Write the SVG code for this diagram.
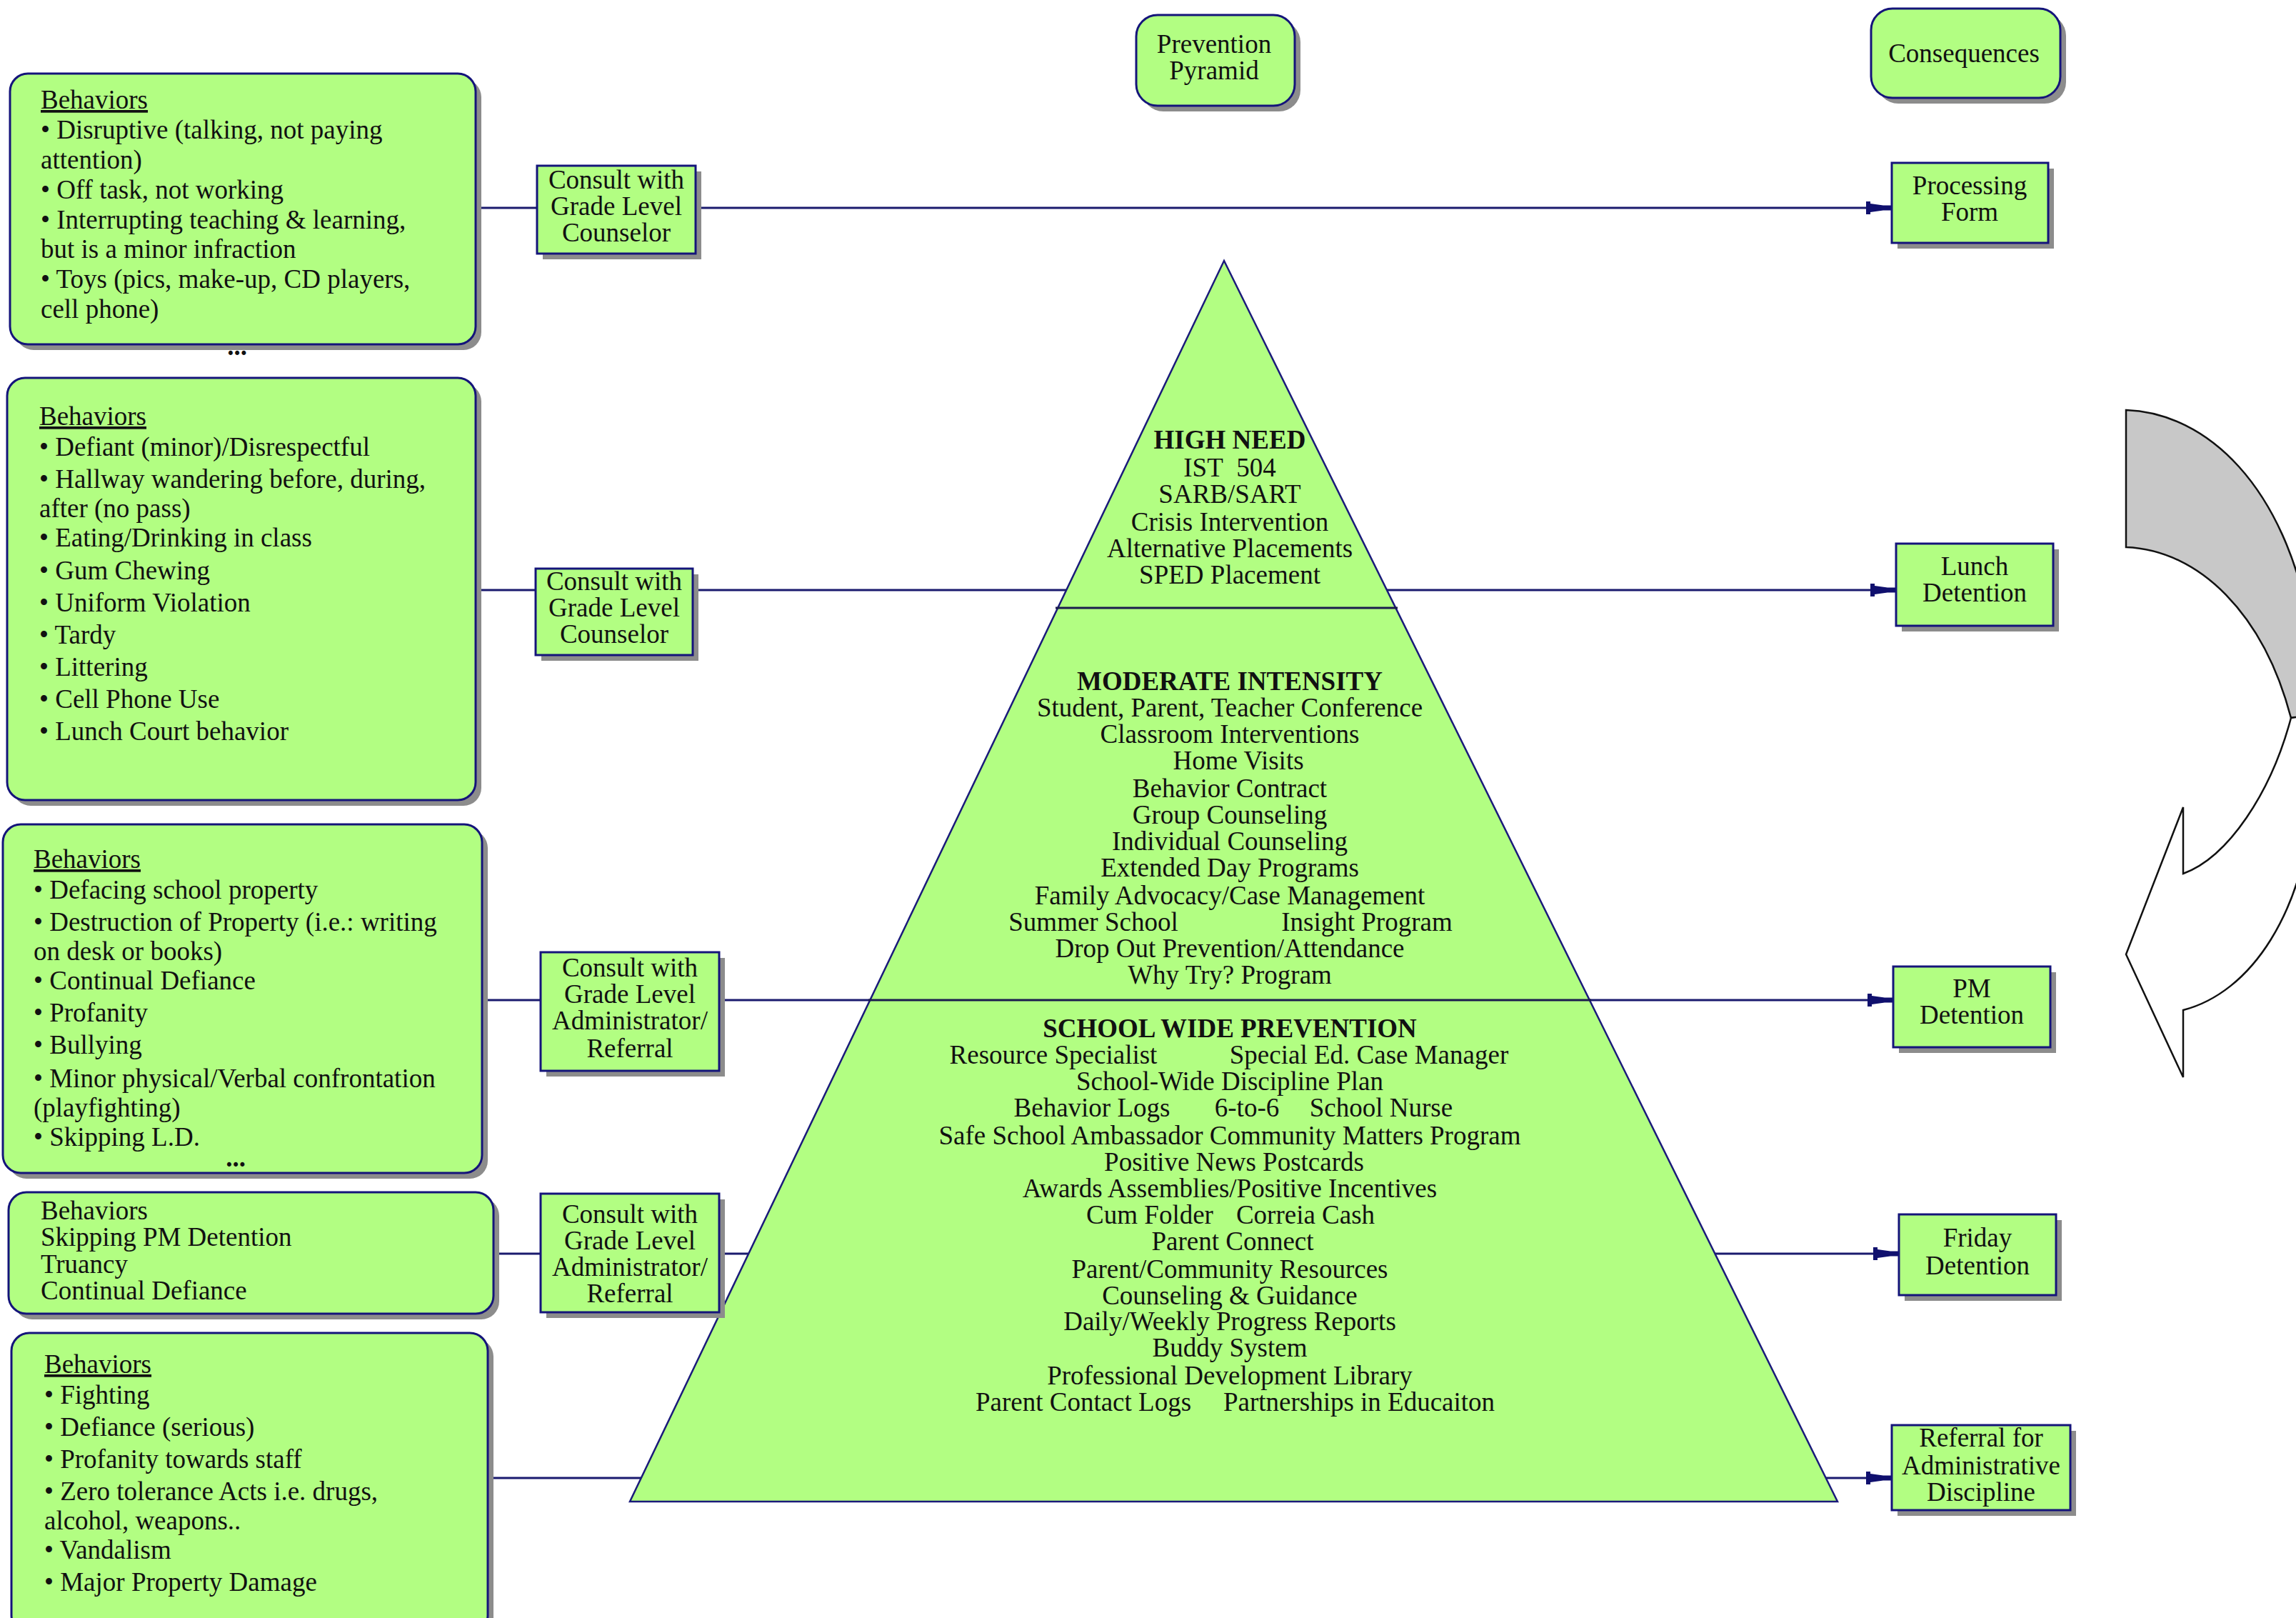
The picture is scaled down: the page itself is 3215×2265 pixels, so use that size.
<svg xmlns="http://www.w3.org/2000/svg" width="3215" height="2265" viewBox="0 0 3215 2265">
<defs>
<style>
.box{fill:#b2fe82;stroke:#14147a;stroke-width:3}
.sh{fill:#8c8c8c}
.t{font-family:"Liberation Serif","Times New Roman",serif;font-size:37px;fill:#111}
.c{text-anchor:middle}
.b{font-weight:bold}
.u{text-decoration:underline}
.conn{stroke:#1a1a6e;stroke-width:3;fill:none}
.pyr{fill:#b2fe82;stroke:#1a1a7a;stroke-width:2.5}
.div{stroke:#1a1a4e;stroke-width:3}
</style>
<marker id="arr" viewBox="-36 -10 36 20" refX="0" refY="0" markerWidth="36" markerHeight="20" markerUnits="userSpaceOnUse" orient="auto">
<path d="M-36,-9 L-30,-9 L-30,-6 L-12,-3.5 L0,-3.5 L0,3.5 L-12,3.5 L-30,6 L-30,9 L-36,9 Z" fill="#10106e"/>
</marker>
</defs>
<rect width="3215" height="2265" fill="#ffffff"/>

<g id="connectors">
<line class="conn" x1="666" y1="291" x2="752" y2="291"/>
<line class="conn" x1="974" y1="291" x2="2649" y2="291" marker-end="url(#arr)"/>
<line class="conn" x1="666" y1="826" x2="750" y2="826"/>
<line class="conn" x1="970" y1="826" x2="2655" y2="826" marker-end="url(#arr)"/>
<line class="conn" x1="675" y1="1400" x2="757" y2="1400"/>
<line class="conn" x1="1007" y1="1400" x2="2651" y2="1400" marker-end="url(#arr)"/>
<line class="conn" x1="691" y1="1755" x2="757" y2="1755"/>
<line class="conn" x1="1007" y1="1755" x2="2659" y2="1755" marker-end="url(#arr)"/>
<line class="conn" x1="683" y1="2069" x2="2649" y2="2069" marker-end="url(#arr)"/>
</g>

<g id="pyramid">
<polygon class="pyr" points="1714,365 2573,2102 882,2102"/>
<line class="div" x1="1478" y1="851" x2="1957" y2="851"/>
<line class="div" x1="1216" y1="1400" x2="2228" y2="1400"/>
<g class="t c">
<text x="1722" y="628" class="b">HIGH NEED</text>
<text x="1722" y="667">IST&#160; 504</text>
<text x="1722" y="704">SARB/SART</text>
<text x="1722" y="743">Crisis Intervention</text>
<text x="1722" y="780">Alternative Placements</text>
<text x="1722" y="817">SPED Placement</text>
<text x="1722" y="966" class="b">MODERATE INTENSITY</text>
<text x="1722" y="1003">Student, Parent, Teacher Conference</text>
<text x="1722" y="1040">Classroom Interventions</text>
<text x="1734" y="1077">Home Visits</text>
<text x="1722" y="1116">Behavior Contract</text>
<text x="1722" y="1153">Group Counseling</text>
<text x="1722" y="1190">Individual Counseling</text>
<text x="1722" y="1227">Extended Day Programs</text>
<text x="1722" y="1266">Family Advocacy/Case Management</text>
<text x="1531" y="1303">Summer School</text>
<text x="1914" y="1303">Insight Program</text>
<text x="1722" y="1340">Drop Out Prevention/Attendance</text>
<text x="1722" y="1377">Why Try? Program</text>
<text x="1722" y="1452" class="b">SCHOOL WIDE PREVENTION</text>
<text x="1475" y="1489">Resource Specialist</text>
<text x="1917" y="1489">Special Ed. Case Manager</text>
<text x="1722" y="1526">School-Wide Discipline Plan</text>
<text x="1529" y="1563">Behavior Logs</text>
<text x="1746" y="1563">6-to-6</text>
<text x="1934" y="1563">School Nurse</text>
<text x="1722" y="1602">Safe School Ambassador Community Matters Program</text>
<text x="1728" y="1639">Positive News Postcards</text>
<text x="1722" y="1676">Awards Assemblies/Positive Incentives</text>
<text x="1610" y="1713">Cum Folder</text>
<text x="1828" y="1713">Correia Cash</text>
<text x="1726" y="1750">Parent Connect</text>
<text x="1722" y="1789">Parent/Community Resources</text>
<text x="1722" y="1826">Counseling &amp; Guidance</text>
<text x="1722" y="1862">Daily/Weekly Progress Reports</text>
<text x="1722" y="1899">Buddy System</text>
<text x="1722" y="1938">Professional Development Library</text>
<text x="1517" y="1975">Parent Contact Logs</text>
<text x="1903" y="1975">Partnerships in Educaiton</text>
</g>
</g>

<g id="prevention-pyramid-title">
<rect class="sh" x="1599" y="29" width="222" height="127" rx="30"/>
<rect class="box" x="1591" y="21" width="222" height="127" rx="30"/>
<text class="t c" x="1700" y="74">Prevention</text>
<text class="t c" x="1700" y="111">Pyramid</text>
</g>

<g id="consequences-title">
<rect class="sh" x="2628" y="20" width="265" height="125" rx="30"/>
<rect class="box" x="2620" y="12" width="265" height="125" rx="30"/>
<text class="t c" x="2750" y="87">Consequences</text>
</g>

<g id="behaviors-1">
<rect class="sh" x="22" y="111" width="652" height="379" rx="25"/>
<rect class="box" x="14" y="103" width="652" height="379" rx="25"/>
<g class="t">
<text x="57" y="152" class="u">Behaviors</text>
<text x="57" y="194">• Disruptive (talking, not paying</text>
<text x="57" y="236">attention)</text>
<text x="57" y="278">• Off task, not working</text>
<text x="57" y="320">• Interrupting teaching &amp; learning,</text>
<text x="57" y="361">but is a minor infraction</text>
<text x="57" y="403">• Toys (pics, make-up, CD players,</text>
<text x="57" y="445">cell phone)</text>
</g>
<text class="t c b" x="332" y="497">...</text>
</g>

<g id="consult-1">
<rect class="sh" x="760" y="240" width="222" height="123"/>
<rect class="box" x="752" y="232" width="222" height="123"/>
<g class="t c">
<text x="863" y="264">Consult with</text>
<text x="863" y="301">Grade Level</text>
<text x="863" y="338">Counselor</text>
</g>
</g>

<g id="processing-form">
<rect class="sh" x="2657" y="236" width="219" height="112"/>
<rect class="box" x="2649" y="228" width="219" height="112"/>
<text class="t c" x="2758" y="272">Processing</text>
<text class="t c" x="2758" y="309">Form</text>
</g>

<g id="behaviors-2">
<rect class="sh" x="18" y="537" width="656" height="591" rx="25"/>
<rect class="box" x="10" y="529" width="656" height="591" rx="25"/>
<g class="t">
<text x="55" y="595" class="u">Behaviors</text>
<text x="55" y="638">• Defiant (minor)/Disrespectful</text>
<text x="55" y="683">• Hallway wandering before, during,</text>
<text x="55" y="724">after (no pass)</text>
<text x="55" y="765">• Eating/Drinking in class</text>
<text x="55" y="811">• Gum Chewing</text>
<text x="55" y="856">• Uniform Violation</text>
<text x="55" y="901">• Tardy</text>
<text x="55" y="946">• Littering</text>
<text x="55" y="991">• Cell Phone Use</text>
<text x="55" y="1036">• Lunch Court behavior</text>
</g>
</g>

<g id="consult-2">
<rect class="sh" x="758" y="804" width="220" height="121"/>
<rect class="box" x="750" y="796" width="220" height="121"/>
<g class="t c">
<text x="860" y="826">Consult with</text>
<text x="860" y="863">Grade Level</text>
<text x="860" y="900">Counselor</text>
</g>
</g>

<g id="lunch-detention">
<rect class="sh" x="2663" y="769" width="220" height="115"/>
<rect class="box" x="2655" y="761" width="220" height="115"/>
<text class="t c" x="2765" y="805">Lunch</text>
<text class="t c" x="2765" y="842">Detention</text>
</g>

<g id="behaviors-3">
<rect class="sh" x="12" y="1162" width="671" height="488" rx="25"/>
<rect class="box" x="4" y="1154" width="671" height="488" rx="25"/>
<g class="t">
<text x="47" y="1215" class="u">Behaviors</text>
<text x="47" y="1258">• Defacing school property</text>
<text x="47" y="1303">• Destruction of Property (i.e.: writing</text>
<text x="47" y="1344">on desk or books)</text>
<text x="47" y="1385">• Continual Defiance</text>
<text x="47" y="1430">• Profanity</text>
<text x="47" y="1475">• Bullying</text>
<text x="47" y="1522">• Minor physical/Verbal confrontation</text>
<text x="47" y="1563">(playfighting)</text>
<text x="47" y="1604">• Skipping L.D.</text>
</g>
<text class="t c b" x="330" y="1633">...</text>
</g>

<g id="consult-3">
<rect class="sh" x="765" y="1341" width="250" height="166"/>
<rect class="box" x="757" y="1333" width="250" height="166"/>
<g class="t c">
<text x="882" y="1367">Consult with</text>
<text x="882" y="1404">Grade Level</text>
<text x="882" y="1441">Administrator/</text>
<text x="882" y="1480">Referral</text>
</g>
</g>

<g id="pm-detention">
<rect class="sh" x="2659" y="1361" width="220" height="113"/>
<rect class="box" x="2651" y="1353" width="220" height="113"/>
<text class="t c" x="2761" y="1396">PM</text>
<text class="t c" x="2761" y="1433">Detention</text>
</g>

<g id="behaviors-4">
<rect class="sh" x="20" y="1677" width="679" height="170" rx="25"/>
<rect class="box" x="12" y="1669" width="679" height="170" rx="25"/>
<g class="t">
<text x="57" y="1707">Behaviors</text>
<text x="57" y="1744">Skipping PM Detention</text>
<text x="57" y="1782">Truancy</text>
<text x="57" y="1819">Continual Defiance</text>
</g>
</g>

<g id="consult-4">
<rect class="sh" x="765" y="1679" width="250" height="166"/>
<rect class="box" x="757" y="1671" width="250" height="166"/>
<g class="t c">
<text x="882" y="1712">Consult with</text>
<text x="882" y="1749">Grade Level</text>
<text x="882" y="1786">Administrator/</text>
<text x="882" y="1823">Referral</text>
</g>
</g>

<g id="friday-detention">
<rect class="sh" x="2667" y="1708" width="220" height="113"/>
<rect class="box" x="2659" y="1700" width="220" height="113"/>
<text class="t c" x="2769" y="1745">Friday</text>
<text class="t c" x="2769" y="1784">Detention</text>
</g>

<g id="behaviors-5">
<rect class="sh" x="24" y="1874" width="667" height="420" rx="25"/>
<rect class="box" x="16" y="1866" width="667" height="420" rx="25"/>
<g class="t">
<text x="62" y="1922" class="u">Behaviors</text>
<text x="62" y="1965">• Fighting</text>
<text x="62" y="2010">• Defiance (serious)</text>
<text x="62" y="2055">• Profanity towards staff</text>
<text x="62" y="2100">• Zero tolerance Acts i.e. drugs,</text>
<text x="62" y="2141">alcohol, weapons..</text>
<text x="62" y="2182">• Vandalism</text>
<text x="62" y="2227">• Major Property Damage</text>
</g>
</g>

<g id="referral-admin">
<rect class="sh" x="2657" y="2003" width="250" height="119"/>
<rect class="box" x="2649" y="1995" width="250" height="119"/>
<text class="t c" x="2774" y="2025">Referral for</text>
<text class="t c" x="2774" y="2064">Administrative</text>
<text class="t c" x="2774" y="2101">Discipline</text>
</g>

<g id="cycle-arrow">
<path d="M2977,574 C3090,578 3200,680 3235,880 L3235,1000 L3208,1005 C3170,860 3080,770 2977,766 Z" fill="#c8c8c8" stroke="#111" stroke-width="2.5"/>
<path d="M3208,1005 C3180,1110 3120,1200 3057,1223 L3057,1130 L2977,1336 L3057,1508 L3057,1414 C3150,1390 3230,1280 3240,1100 L3240,1000 Z" fill="#ffffff" stroke="#111" stroke-width="2.5"/>
</g>
</svg>
